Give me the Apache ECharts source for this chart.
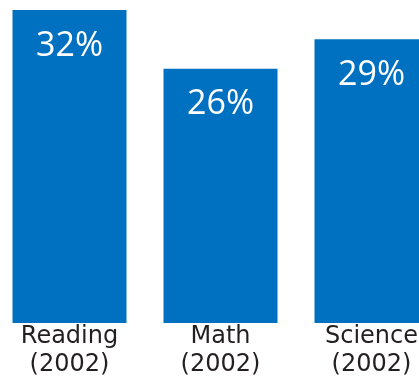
<!DOCTYPE html>
<html>
<head>
<meta charset="utf-8">
<script src="https://cdn.jsdelivr.net/npm/echarts@6/dist/echarts.min.js"></script>
<style>html,body{margin:0;padding:0;background:#fff}#c{width:419px;height:381px}</style>
</head>
<body>
<div id="c"></div>
<script>
var categories = ['Reading\n(2002)', 'Math\n(2002)', 'Science\n(2002)'];
var values = [32, 26, 29];
var chart = echarts.init(document.getElementById('c'));
chart.setOption({
  animation: false,
  grid: { left: -6, top: 10, width: 453, height: 313, containLabel: false, outerBoundsMode: 'none' },
  xAxis: {
    type: 'category',
    data: categories,
    axisLine: { show: false },
    axisTick: { show: false },
    axisLabel: {
      interval: 0,
      margin: 0,
      color: '#231f20',
      fontFamily: 'DejaVu Sans',
      fontSize: 24,
      lineHeight: 28
    }
  },
  yAxis: { type: 'value', min: 0, max: 32, show: false, splitLine: { show: false } },
  series: [{
    type: 'bar',
    data: values,
    barWidth: 114,
    itemStyle: { color: '#0070c0' },
    label: {
      show: true,
      position: 'insideTop',
      distance: 19,
      color: '#fff',
      fontFamily: 'Open Sans',
      fontSize: 34,
      formatter: '{c}%'
    }
  }]
});
</script>
</body>
</html>
